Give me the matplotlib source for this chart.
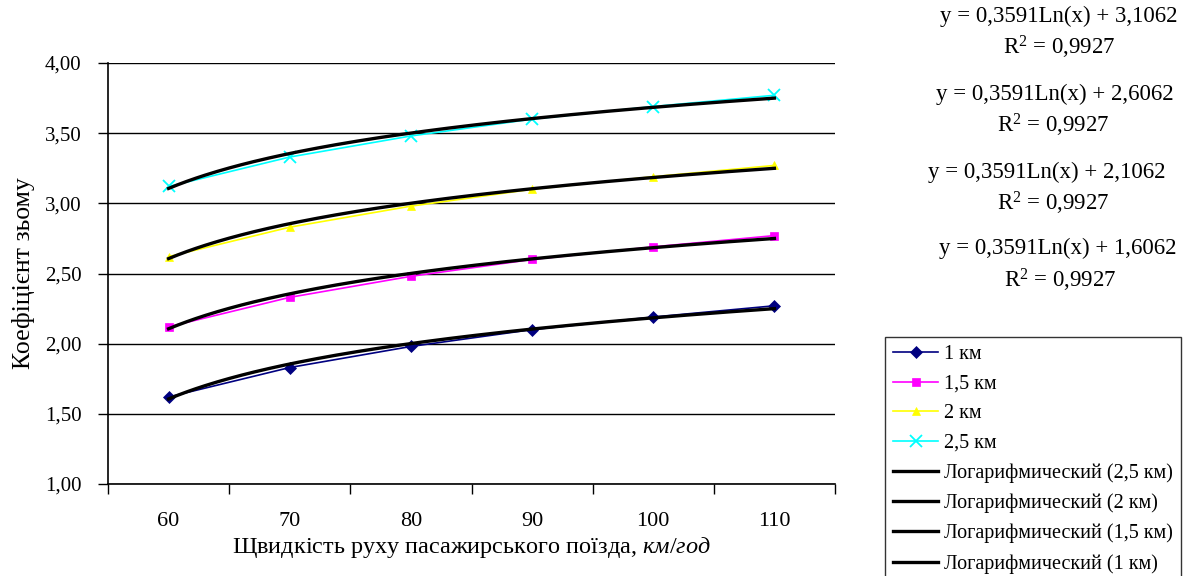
import numpy as np
import matplotlib
matplotlib.use('Agg')
import matplotlib.pyplot as plt

# data
speeds = ['60', '70', '80', '90', '100', '110']
k_1km = [1.62, 1.83, 1.98, 2.10, 2.19, 2.27]
k_15km = [2.12, 2.33, 2.48, 2.60, 2.69, 2.77]
k_2km = [2.62, 2.83, 2.98, 3.10, 3.19, 3.27]
k_25km = [3.12, 3.33, 3.48, 3.60, 3.69, 3.77]

series_names = ['1 км', '1,5 км', '2 км', '2,5 км']
series_colors = ['#000080', '#ff00ff', '#ffff00', '#00ffff']
series_markers = ['D', 's', '^', 'x']

# log trendlines y = a*ln(x) + b, x = category number
trend_slope = 0.3591
trend_icpt = [1.6062, 2.1062, 2.6062, 3.1062]
trend_r2 = 0.9927


def comma(v, nd):
    return ('%.*f' % (nd, v)).replace('.', ',')


plt.rcParams['font.family'] = ['Liberation Serif', 'DejaVu Serif']
plt.rcParams['mathtext.fontset'] = 'custom'
plt.rcParams['mathtext.rm'] = 'Liberation Serif'
plt.rcParams['mathtext.it'] = 'Liberation Serif:italic'

W, H = 1195, 576
fig = plt.figure(figsize=(W / 100, H / 100), dpi=100)
ax = fig.add_axes([108 / W, 1 - 484 / H, (835 - 108) / W, (484 - 63) / H])

xcat = np.arange(1, len(speeds) + 1)
allk = [k_1km, k_15km, k_2km, k_25km]

handles = []
for vals, name, col, mk in zip(allk, series_names, series_colors, series_markers):
    ms = 6 if mk != 'x' else 8
    h, = ax.plot(xcat, vals, color=col, marker=mk, markersize=ms, lw=1.2,
                 markeredgewidth=1.3 if mk == 'x' else 0.5, label=name, zorder=3)
    handles.append(h)

xs = np.linspace(1, len(speeds), 200)
trend_handles = []
for b, name in zip(trend_icpt, series_names):
    h, = ax.plot(xs, trend_slope * np.log(xs) + b, color='black', lw=2.4,
                 label='Логарифмический (' + name + ')', zorder=4)
    trend_handles.append(h)

ax.set_xlim(0.5, len(speeds) + 0.5)
ax.set_ylim(1.0, 4.0)
yt = np.arange(1.0, 4.01, 0.5)
ax.set_yticks(yt)
ax.set_yticklabels([comma(v, 2) for v in yt])
ax.yaxis.grid(True, color='black', lw=1)
ax.set_axisbelow(True)
ax.set_xticks(xcat)
ax.set_xticklabels(speeds)
ax.set_xticks(np.arange(0.5, len(speeds) + 1, 1), minor=True)
ax.tick_params(axis='x', which='major', length=0, pad=20, labelsize=16)
ax.tick_params(axis='x', which='minor', length=7, width=1, direction='out')
ax.tick_params(axis='y', length=7, width=1, direction='out', pad=12, labelsize=15)
for s in ['top', 'right']:
    ax.spines[s].set_visible(False)
for s in ['left', 'bottom']:
    ax.spines[s].set_linewidth(1.2)

ax.set_xlabel('Щвидкість руху пасажирського поїзда, $\\mathit{км/год}$', fontsize=17.5, labelpad=3)
ax.set_ylabel('Коефіцієнт зьому', fontsize=18.5, labelpad=7)

# trendline equations, top to bottom
eq_pos = [(1059, 16, 1059, 47), (1055, 94, 1053, 125), (1047, 172, 1053, 203), (1058, 248, 1060, 280)]
for (ex, ey, rx, ry), b in zip(eq_pos, trend_icpt[::-1]):
    eq = 'y = %sLn(x) + %s' % (comma(trend_slope, 4), comma(b, 4))
    fig.text(ex / W, 1 - ey / H, eq, ha='center', va='center', fontsize=16.5)
    r2 = 'R$^2$ = ' + comma(trend_r2, 4)
    fig.text(rx / W, 1 - ry / H, r2, ha='center', va='center', fontsize=16.5)

leg = fig.legend(handles=handles + trend_handles[::-1], loc='upper left',
                 bbox_to_anchor=(885 / W, 1 - 337 / H), borderaxespad=0,
                 fontsize=14.5, frameon=True, fancybox=False, edgecolor='black',
                 handlelength=2.25, handletextpad=0.3, labelspacing=0.52,
                 borderpad=0.4)
leg.get_frame().set_linewidth(1)

fig.savefig('out.png', dpi=100)
